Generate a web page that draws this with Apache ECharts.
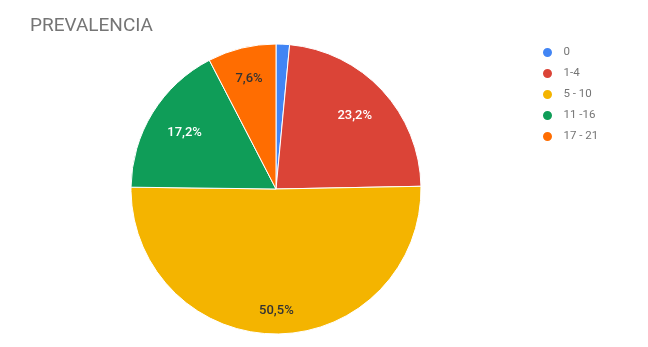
<!DOCTYPE html>
<html><head><meta charset="utf-8">
<script src="https://cdn.jsdelivr.net/npm/echarts@6/dist/echarts.min.js"></script>
<style>html,body{margin:0;padding:0;background:#fff}#c{width:648px;height:347px}</style>
</head><body><div id="c"></div>
<script>
const categories = ['0', '1-4', '5 - 10', '11 -16', '17 - 21'];
const values = [1.5, 23.2, 50.5, 17.2, 7.6];
const colors = ['#4285F4', '#DB4437', '#F4B400', '#0F9D58', '#FF6D01'];
const labelColors = ['#ffffff', '#ffffff', '#333333', '#ffffff', '#333333'];
const title = 'PREVALENCIA';

const fmt = v => v.toFixed(1).replace('.', ',') + '%';
const center = [276, 189];
const R = 145;

function labelSeries(innerFrac, showIdx) {
  return {
    type: 'pie', center: center, radius: [R * innerFrac, R], startAngle: 90, clockwise: true,
    silent: true, legendHoverLink: false,
    itemStyle: { color: 'rgba(0,0,0,0)', borderWidth: 0 },
    emphasis: { disabled: true },
    labelLine: { show: false },
    data: categories.map((c, i) => ({
      name: c, value: values[i],
      label: {
        show: showIdx.includes(i), position: 'inside', formatter: fmt(values[i]),
        color: labelColors[i], fontFamily: 'Roboto', fontSize: 13, fontWeight: 500
      }
    })),
    z: 5
  };
}

const chart = echarts.init(document.getElementById('c'), null, { renderer: 'canvas' });
chart.setOption({
  animation: false,
  title: { text: title, left: 25, top: 12, textStyle: { fontFamily: 'Roboto', fontSize: 19, fontWeight: 'normal', color: '#757575' } },
  color: colors,
  legend: {
    orient: 'vertical', left: 536, top: 41, icon: 'circle', itemWidth: 22, itemHeight: 11, itemGap: 8,
    textStyle: { fontFamily: 'Roboto', fontSize: 11.5, color: '#757575' },
    data: categories
  },
  series: [
    {
      type: 'pie', center: center, radius: R, startAngle: 90, clockwise: true,
      itemStyle: { borderColor: '#fff', borderWidth: 1 },
      label: { show: false }, labelLine: { show: false },
      data: categories.map((c, i) => ({ name: c, value: values[i] }))
    },
    labelSeries(0.44, [1, 3]),
    labelSeries(0.53, [4]),
    labelSeries(0.64, [2])
  ]
});
</script></body></html>
